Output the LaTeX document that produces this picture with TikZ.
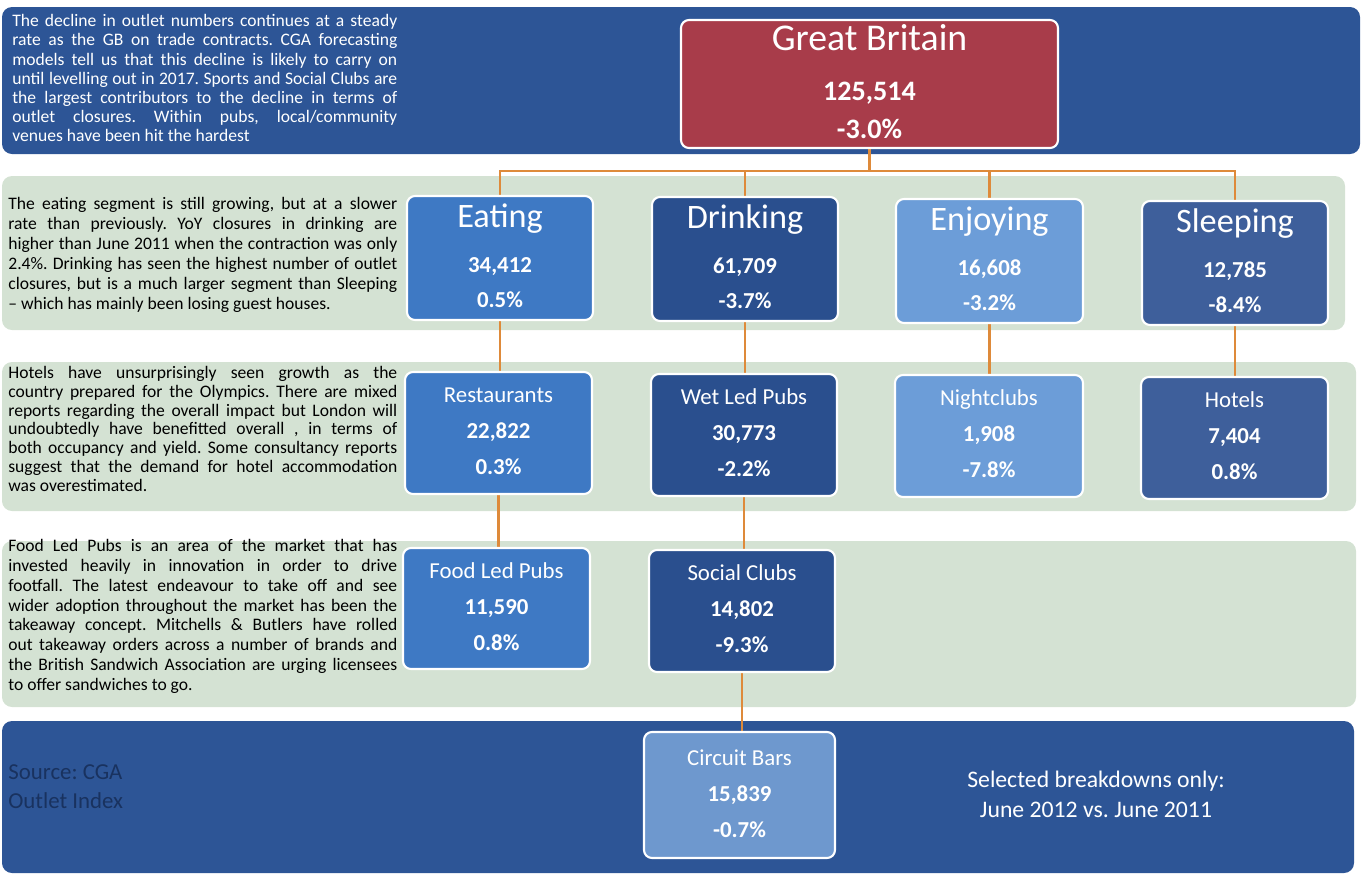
\documentclass[tikz,border=0pt]{standalone}
\usepackage{fontspec}
\setmainfont{Carlito}
\usetikzlibrary{calc}
\pgfdeclarelayer{background}
\pgfsetlayers{background,main}
\definecolor{bandblue}{RGB}{45,85,150}
\definecolor{bandgreen}{RGB}{212,226,211}
\definecolor{gbred}{RGB}{168,60,74}
\definecolor{eatblue}{RGB}{62,121,196}
\definecolor{drinkblue}{RGB}{42,79,142}
\definecolor{enjoyblue}{RGB}{108,157,216}
\definecolor{sleepblue}{RGB}{62,95,155}
\definecolor{circblue}{RGB}{110,152,206}
\definecolor{linkorange}{RGB}{222,138,58}
\definecolor{srcblue}{RGB}{25,50,95}
\tikzset{
  box/.style={draw=white, line width=1.2pt, rounded corners=0.16cm, inner sep=0pt},
  bigttl/.style={anchor=base, text=white, inner sep=0pt, font=\fontsize{19.5}{22}\selectfont},
  gbttl/.style={anchor=base, text=white, inner sep=0pt, font=\fontsize{21.5}{24}\selectfont},
  smallttl/.style={anchor=base, text=white, inner sep=0pt, font=\fontsize{13}{15}\selectfont},
  num/.style={anchor=base, text=white, inner sep=0pt, font=\fontsize{13}{15}\selectfont\bfseries},
  gbnum/.style={anchor=base, text=white, inner sep=0pt, font=\fontsize{16}{18}\selectfont\bfseries},
  link/.style={draw=linkorange, line width=1.4pt},
  para/.style={anchor=base west, inner sep=0pt},
  note/.style={anchor=base, text=white, inner sep=0pt, font=\fontsize{13.5}{16}\selectfont},
  src/.style={anchor=base west, text=srcblue, inner sep=0pt, font=\fontsize{13}{15}\selectfont}
}
\newcommand\catbox[6]{\node[box, fill=#6, minimum width={#4*0.02cm}, minimum height={#5*0.02cm}] (#1) at ({#2+#4/2},{#3+#5/2}) {};}
\newcommand\boxlabels[9]{%
  \node[#2] (#1-t) at ($(#1.north)+(0,#6)$) {#3};
  \node[#9] (#1-n) at ($(#1.north)+(0,#7)$) {#4};
  \node[#9] (#1-p) at ($(#1.north)+(0,#8)$) {#5};}
\newcommand\jl[1]{\hbox to \hsize{#1}}
\newcommand\parabox[3]{\vtop{\hsize=#1\relax\fontsize{10}{#2}\selectfont\frenchspacing#3}}
\begin{document}
\frenchspacing
\begin{tikzpicture}[x=0.02cm, y=-0.02cm]
\useasboundingbox (0,0) rectangle (1364,876);

% boxes
\catbox{gb}{681}{20}{377}{128}{gbred}
\catbox{eat}{407}{196}{186}{124}{eatblue}
\catbox{drink}{652}{197}{186}{124}{drinkblue}
\catbox{enjoy}{896}{199}{187}{124}{enjoyblue}
\catbox{sleep}{1142}{201}{186}{124}{sleepblue}
\catbox{rest}{405}{372}{187}{122}{eatblue}
\catbox{wet}{651}{374}{186}{122}{drinkblue}
\catbox{night}{895}{375}{188}{122}{enjoyblue}
\catbox{hotel}{1141}{377}{187}{122}{sleepblue}
\catbox{food}{403}{548}{187}{121}{eatblue}
\catbox{social}{649}{550}{186}{122}{drinkblue}
\catbox{circ}{644}{732}{191}{126}{circblue}

\boxlabels{gb}{gbttl}{Great Britain}{125,514}{-3.0\%}{32}{82}{120}{gbnum}
\boxlabels{eat}{bigttl}{Eating}{34,412}{0.5\%}{33}{78}{113}{num}
\boxlabels{drink}{bigttl}{Drinking}{61,709}{-3.7\%}{33}{78}{113}{num}
\boxlabels{enjoy}{bigttl}{Enjoying}{16,608}{-3.2\%}{33}{78}{113}{num}
\boxlabels{sleep}{bigttl}{Sleeping}{12,785}{-8.4\%}{33}{78}{113}{num}
\boxlabels{rest}{smallttl}{Restaurants}{22,822}{0.3\%}{32}{68}{104}{num}
\boxlabels{wet}{smallttl}{Wet Led Pubs}{30,773}{-2.2\%}{32}{68}{104}{num}
\boxlabels{night}{smallttl}{Nightclubs}{1,908}{-7.8\%}{32}{68}{104}{num}
\boxlabels{hotel}{smallttl}{Hotels}{7,404}{0.8\%}{32}{68}{104}{num}
\boxlabels{food}{smallttl}{Food Led Pubs}{11,590}{0.8\%}{32}{68}{104}{num}
\boxlabels{social}{smallttl}{Social Clubs}{14,802}{-9.3\%}{32}{68}{104}{num}
\boxlabels{circ}{smallttl}{Circuit Bars}{15,839}{-0.7\%}{35}{71}{107}{num}

% paragraphs
\node[para, text=white] (ptop) at (12,26.7) {\parabox{7.7cm}{0.384cm}{%
\jl{The decline in outlet numbers continues at a steady}
\jl{rate as the GB on trade contracts. CGA forecasting}
\jl{models tell us that this decline is likely to carry on}
\jl{until levelling out in 2017. Sports and Social Clubs are}
\jl{the largest contributors to the decline in terms of}
\jl{outlet closures. Within pubs, local/community}
\hbox{venues have been hit the hardest}}};

\node[para] (peat) at (8,209.3) {\parabox{7.78cm}{0.402cm}{%
\jl{The eating segment is still growing, but at a slower}
\jl{rate than previously. YoY closures in drinking are}
\jl{higher than June 2011 when the contraction was only}
\jl{2.4\%. Drinking has seen the highest number of outlet}
\jl{closures, but is a much larger segment than Sleeping}
\hbox{– which has mainly been losing guest houses.}}};

\node[para] (photel) at (8,378.3) {\parabox{7.78cm}{0.378cm}{%
\jl{Hotels have unsurprisingly seen growth as the}
\jl{country prepared for the Olympics. There are mixed}
\jl{reports regarding the overall impact but London will}
\jl{undoubtedly have benefitted overall , in terms of}
\jl{both occupancy and yield. Some consultancy reports}
\jl{suggest that the demand for hotel accommodation}
\hbox{was overestimated.}}};

\node[para] (pfood) at (8,551.7) {\parabox{7.78cm}{0.396cm}{%
\jl{Food Led Pubs is an area of the market that has}
\jl{invested heavily in innovation in order to drive}
\jl{footfall. The latest endeavour to take off and see}
\jl{wider adoption throughout the market has been the}
\jl{takeaway concept. Mitchells \& Butlers have rolled}
\jl{out takeaway orders across a number of brands and}
\jl{the British Sandwich Association are urging licensees}
\hbox{to offer sandwiches to go.}}};

\node[src] (src1) at (8,779) {Source: CGA};
\node[src] (src2) at (8,808) {Outlet Index};
\node[note] (sel1) at (1096,787) {Selected breakdowns only:};
\node[note] (sel2) at (1096,817) {June 2012 vs. June 2011};

\begin{pgfonlayer}{background}
  \fill[bandblue, rounded corners=0.2cm] (2,7) rectangle (1360,154);
  \fill[bandgreen, rounded corners=0.2cm] (2,176) rectangle (1345,330);
  \fill[bandgreen, rounded corners=0.2cm] (2,362) rectangle (1356,511);
  \fill[bandgreen, rounded corners=0.2cm] (2,541) rectangle (1356,707);
  \fill[bandblue, rounded corners=0.2cm] (2,721) rectangle (1354,873);
  \draw[link] (gb.south) -- ++(0,22) coordinate (bus) -| (eat.north);
  \draw[link] (bus) -| (drink.north);
  \draw[link] (bus) -| (enjoy.north);
  \draw[link] (bus) -| (sleep.north);
  \draw[link] (eat.south) -- (eat.south |- rest.north);
  \draw[link] (drink.south) -- (drink.south |- wet.north);
  \draw[link] (enjoy.south) -- (enjoy.south |- night.north);
  \draw[link] (sleep.south) -- (sleep.south |- hotel.north);
  \draw[link] (rest.south) -- (rest.south |- food.north);
  \draw[link] (wet.south) -- (wet.south |- social.north);
  \draw[link] (social.south) -- (social.south |- circ.north);
\end{pgfonlayer}
\end{tikzpicture}
\end{document}
